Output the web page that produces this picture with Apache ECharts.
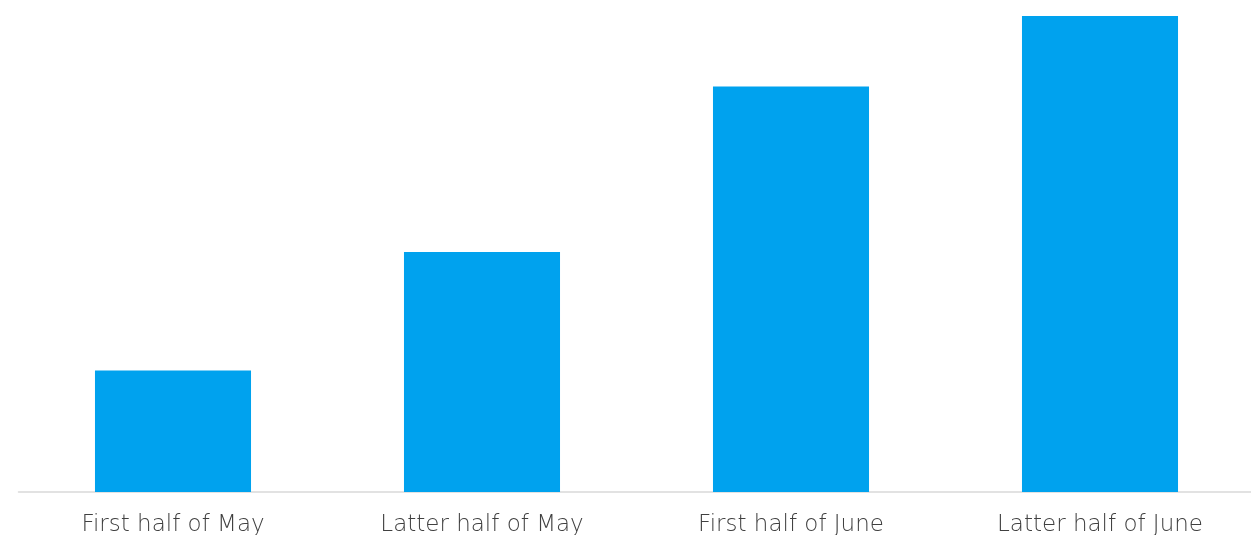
<!DOCTYPE html>
<html>
<head>
<meta charset="utf-8">
<script src="https://cdn.jsdelivr.net/npm/echarts@6/dist/echarts.min.js"></script>
<style>
  html, body { margin: 0; padding: 0; background: #ffffff; }
  #chart { width: 1251px; height: 535px; }
</style>
</head>
<body>
<div id="chart"></div>
<script>
// Half-month periods and their relative volumes
const categories = ['First half of May', 'Latter half of May', 'First half of June', 'Latter half of June'];
const values = [25.5, 50.4, 85.2, 100];

const chart = echarts.init(document.getElementById('chart'), null, { renderer: 'canvas' });
chart.setOption({
  animation: false,
  grid: { left: 18.5, width: 1236, top: 16, bottom: 43, containLabel: false, outerBoundsMode: 'none' },
  xAxis: {
    type: 'category',
    data: categories,
    axisLine: { lineStyle: { color: '#d9d9d9', width: 1.5 } },
    axisTick: { show: false },
    axisLabel: {
      color: '#404040',
      fontSize: 23,
      fontWeight: 200,
      fontFamily: '"DejaVu Sans", sans-serif',
      margin: 22
    }
  },
  yAxis: {
    type: 'value',
    min: 0,
    max: 100,
    show: false,
    splitLine: { show: false }
  },
  series: [{
    type: 'bar',
    data: values,
    barWidth: '50.5%',
    itemStyle: { color: '#00A2EE' }
  }]
});
</script>
</body>
</html>
